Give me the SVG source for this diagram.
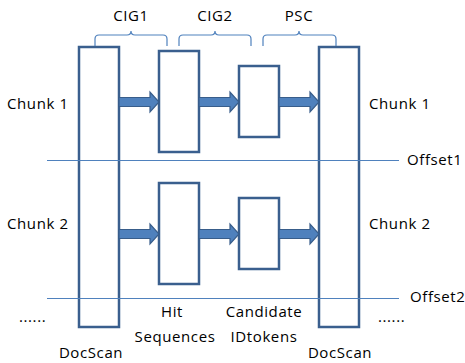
<svg xmlns="http://www.w3.org/2000/svg" width="465" height="363" viewBox="0 0 465 363">
<defs>
<style>
.box{fill:#fff;stroke:#3a5f8e;stroke-width:2.5}
.ln{stroke:#4f81bd;stroke-width:1.2;fill:none}
.br{stroke:#4f81bd;stroke-width:1.2;fill:none}
.ar{fill:#4f81bd;stroke:#385d8a;stroke-width:1.2}
text{font-family:"Open Sans","Liberation Sans",sans-serif;font-size:15px;letter-spacing:0.6px;fill:#000}
.m{text-anchor:middle}
</style>
<path id="arr" d="M0,-4.5 H31 V-10 L40,0 L31,10 V4.5 H0 Z"/>
</defs>
<g id="docscan-left"><rect class="box" x="79" y="47" width="40" height="280"/><text class="m" x="91" y="358">DocScan</text></g>
<g id="docscan-right"><rect class="box" x="319" y="47" width="40" height="280"/><text class="m" x="340" y="358">DocScan</text></g>
<g id="hit1"><rect class="box" x="159" y="51" width="40" height="101"/></g>
<g id="hit2"><rect class="box" x="159" y="183" width="40" height="101"/></g>
<g id="cand1"><rect class="box" x="239" y="66" width="40" height="71"/></g>
<g id="cand2"><rect class="box" x="239" y="198" width="40" height="71"/></g>
<g id="lines">
<line class="ln" x1="47" y1="160.5" x2="399" y2="160.5"/>
<line class="ln" x1="47" y1="298.5" x2="399" y2="298.5"/>
</g>
<g id="connectors">
<use href="#arr" class="ar" transform="translate(119,102)"/>
<use href="#arr" class="ar" transform="translate(199,102)"/>
<use href="#arr" class="ar" transform="translate(279,102)"/>
<use href="#arr" class="ar" transform="translate(119,234)"/>
<use href="#arr" class="ar" transform="translate(199,234)"/>
<use href="#arr" class="ar" transform="translate(279,234)"/>
</g>
<g id="braces">
<path class="br" d="M95,46 V39 Q95,35 99,35 H127 Q131,35 131,31 Q131,35 135,35 H163 Q167,35 167,39 V46"/>
<path class="br" d="M179,46 V39 Q179,35 183,35 H211 Q215,35 215,31 Q215,35 219,35 H247 Q251,35 251,39 V46"/>
<path class="br" d="M263,46 V39 Q263,35 267,35 H295 Q299,35 299,31 Q299,35 303,35 H332 Q336,35 336,39 V46"/>
</g>
<g id="labels">
<text class="m" x="131" y="21">CIG1</text>
<text class="m" x="215" y="21">CIG2</text>
<text class="m" x="299" y="21">PSC</text>
<text x="7" y="109">Chunk 1</text>
<text x="369" y="109">Chunk 1</text>
<text x="7" y="229">Chunk 2</text>
<text x="369" y="229">Chunk 2</text>
<text x="407" y="165">Offset1</text>
<text x="410" y="302">Offset2</text>
<text x="19" y="322">......</text>
<text x="378" y="322">......</text>
<text class="m" x="172" y="317">Hit</text>
<text class="m" x="175" y="342">Sequences</text>
<text class="m" x="264" y="317">Candidate</text>
<text class="m" x="264" y="342">IDtokens</text>
</g>
</svg>
